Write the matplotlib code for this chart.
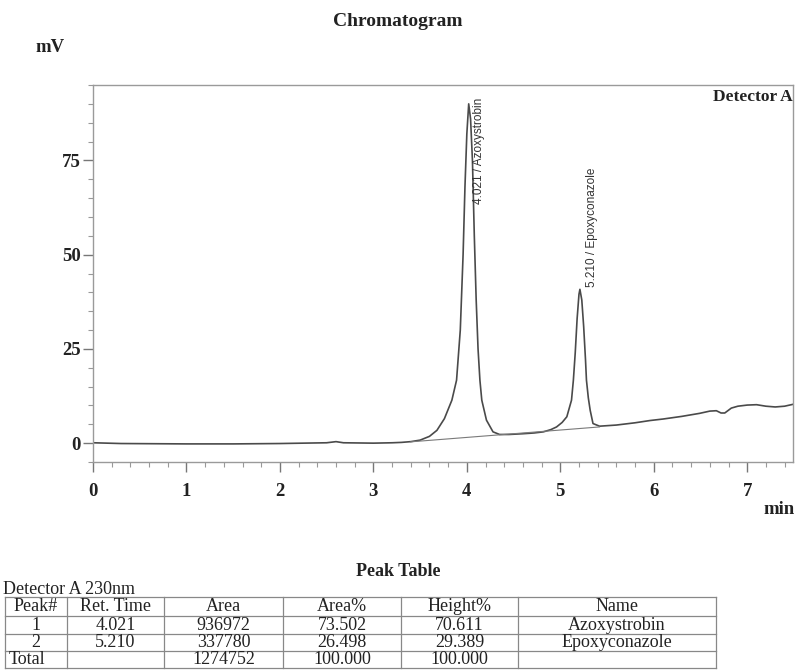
import matplotlib
matplotlib.use("Agg")
import matplotlib.pyplot as plt
from matplotlib.ticker import MultipleLocator
from matplotlib.lines import Line2D

# ---------------- data ----------------
time_min = [0.00, 0.30, 1.00, 1.50, 2.00, 2.50, 2.60, 2.68, 3.00, 3.20, 3.30,
            3.40, 3.50, 3.60, 3.68, 3.76, 3.84, 3.89, 3.93, 3.96, 3.98, 4.00,
            4.02, 4.04, 4.06, 4.08, 4.10, 4.12, 4.14, 4.16, 4.21, 4.28, 4.35,
            4.45, 4.60, 4.72, 4.82, 4.90, 4.96, 5.02, 5.07, 5.12, 5.14, 5.16,
            5.18, 5.20, 5.21, 5.23, 5.25, 5.27, 5.28, 5.30, 5.32, 5.35, 5.42,
            5.60, 5.80, 5.96, 6.10, 6.30, 6.49, 6.60, 6.67, 6.72, 6.76, 6.83,
            6.90, 7.00, 7.10, 7.20, 7.30, 7.40, 7.49]
signal_mv = [0.1, -0.1, -0.2, -0.2, -0.1, 0.1, 0.4, 0.1, 0.0, 0.1, 0.2,
             0.4, 0.8, 1.8, 3.4, 6.5, 11.4, 16.7, 30.0, 50.0, 68.0, 82.0,
             90.0, 86.0, 75.0, 55.0, 38.0, 25.0, 16.7, 11.4, 6.1, 3.0, 2.3,
             2.3, 2.5, 2.7, 3.0, 3.6, 4.3, 5.5, 7.0, 11.4, 16.7, 24.0,
             33.0, 39.5, 40.8, 38.0, 31.0, 22.0, 16.7, 12.0, 8.7, 5.2, 4.5,
             4.8, 5.4, 6.0, 6.4, 7.1, 7.9, 8.5, 8.6, 8.0, 8.0, 9.3,
             9.8, 10.1, 10.2, 9.8, 9.6, 9.8, 10.3]

baseline_t = [3.40, 5.42]
baseline_mv = [0.35, 4.3]

peak_labels = ["4.021 / Azoxystrobin", "5.210 / Epoxyconazole"]
label_t = [4.135, 5.34]
label_mv = [63.5, 41.5]

x_ticks = [0, 1, 2, 3, 4, 5, 6, 7]
y_ticks = [0, 25, 50, 75]

table_header = ["Peak#", "Ret. Time", "Area", "Area%", "Height%", "Name"]
peak_no = ["1", "2", "Total"]
ret_time = ["4.021", "5.210", ""]
area = ["936972", "337780", "1274752"]
area_pct = ["73.502", "26.498", "100.000"]
height_pct = ["70.611", "29.389", "100.000"]
names = ["Azoxystrobin", "Epoxyconazole", ""]

# ---------------- figure ----------------
W, H = 796, 670
fig = plt.figure(figsize=(W / 100, H / 100), dpi=100)
fig.patch.set_facecolor("white")

def fx(px):
    return px / W

def fy(py):
    return 1 - py / H

serif = "Liberation Serif"
sans = "Liberation Sans"
ink = "#222222"

ax = fig.add_axes([fx(93), fy(462), (793 - 93) / W, (462 - 85) / H])
ax.plot(time_min, signal_mv, color="#4a4a4a", lw=1.2)
ax.plot(baseline_t, baseline_mv, color="#7a7a7a", lw=0.8)
ax.set_xlim(0, 7.49)
ax.set_ylim(-5, 95)

for s in ax.spines.values():
    s.set_color("#9a9a9a")
    s.set_linewidth(1.0)

ax.set_xticks(x_ticks)
ax.set_yticks(y_ticks)
ax.xaxis.set_minor_locator(MultipleLocator(0.2))
ax.yaxis.set_minor_locator(MultipleLocator(5))
ax.tick_params(axis="both", which="major", direction="out", length=7,
               width=1.0, color="#777777")
ax.tick_params(axis="both", which="minor", direction="out", length=3.5,
               width=0.8, color="#999999")
ax.tick_params(axis="x", pad=8)
ax.tick_params(axis="y", pad=2)
for lab in ax.get_xticklabels() + ax.get_yticklabels():
    lab.set_fontfamily(serif)
    lab.set_fontweight("bold")
    lab.set_fontsize(13.5)
    lab.set_color(ink)

for txt, t, v in zip(peak_labels, label_t, label_mv):
    ax.text(t, v, txt, rotation=90, ha="center", va="bottom",
            fontsize=8.5, family=sans, color="#333333")

ax.text(1.0, 1.0 - 12 / 377, "Detector A", transform=ax.transAxes,
        ha="right", va="center", fontsize=12.5, family=serif,
        fontweight="bold", color=ink)

fig.text(fx(398), fy(22), "Chromatogram", ha="center", va="center",
         fontsize=14, family=serif, fontweight="bold", color=ink)
fig.text(fx(35), fy(47), "mV", ha="left", va="center",
         fontsize=13.5, family=serif, fontweight="bold", color=ink)
fig.text(fx(795), fy(510), "min", ha="right", va="center",
         fontsize=13.5, family=serif, fontweight="bold", color=ink)

# ---------------- peak table ----------------
fig.text(fx(398), fy(572), "Peak Table", ha="center", va="center",
         fontsize=13, family=serif, fontweight="bold", color=ink)
fig.text(fx(3), fy(589), "Detector A 230nm", ha="left", va="center",
         fontsize=13, family=serif, color=ink)

col_x = [5, 67, 164, 283, 401, 518, 716]
row_y = [597, 616, 634, 651, 668]
line_kw = dict(color="#888888", lw=0.9, transform=fig.transFigure)
for yy in row_y:
    fig.add_artist(Line2D([fx(col_x[0]), fx(col_x[-1])], [fy(yy), fy(yy)], **line_kw))
for xx in col_x:
    fig.add_artist(Line2D([fx(xx), fx(xx)], [fy(row_y[0]), fy(row_y[-1])], **line_kw))

rows = [table_header] + [list(r) for r in zip(peak_no, ret_time, area,
                                                 area_pct, height_pct, names)]
for i, row in enumerate(rows):
    yc = (row_y[i] + row_y[i + 1]) / 2
    for j, cell in enumerate(row):
        if not cell:
            continue
        if i > 0 and j == 0 and cell == "Total":
            fig.text(fx(col_x[0] + 4), fy(yc), cell, ha="left", va="center",
                     fontsize=13, family=serif, color=ink)
        else:
            xc = (col_x[j] + col_x[j + 1]) / 2
            fig.text(fx(xc), fy(yc), cell, ha="center", va="center",
                     fontsize=13, family=serif, color=ink)

fig.savefig("out.png", dpi=100, facecolor="white")
